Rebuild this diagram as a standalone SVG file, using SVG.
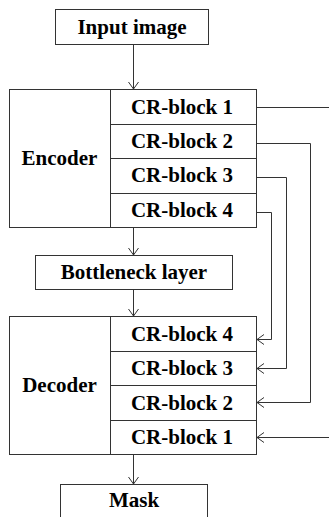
<svg xmlns="http://www.w3.org/2000/svg" width="329" height="517" viewBox="0 0 329 517">
<style>
.box{fill:#fff;stroke:#333;stroke-width:1}
.ln{fill:none;stroke:#333;stroke-width:1}
.t{font-family:"Liberation Serif","Times New Roman",serif;font-weight:bold;font-size:21px;fill:#000;text-anchor:middle}
</style>
<defs>
<marker id="arr" markerUnits="userSpaceOnUse" markerWidth="12" markerHeight="12" viewBox="-8 -6 10 12" refX="0" refY="0" orient="auto">
<path d="M-7,-5 L0,0 L-7,5" fill="none" stroke="#333" stroke-width="1"/>
</marker>
</defs>
<rect width="329" height="517" fill="#fff"/>
<g id="input">
<rect class="box" x="55.5" y="9.5" width="153" height="35"/>
<text class="t" x="132" y="33.5">Input image</text>
</g>
<g id="encoder">
<rect class="box" x="9.5" y="89.5" width="247" height="138"/>
<line class="ln" x1="110.5" y1="89.5" x2="110.5" y2="227.5"/>
<line class="ln" x1="110.5" y1="124.5" x2="256.5" y2="124.5"/>
<line class="ln" x1="110.5" y1="158.5" x2="256.5" y2="158.5"/>
<line class="ln" x1="110.5" y1="193.5" x2="256.5" y2="193.5"/>
<text class="t" x="59.5" y="165">Encoder</text>
<text class="t" x="182" y="113.5">CR-block 1</text>
<text class="t" x="182" y="148">CR-block 2</text>
<text class="t" x="182" y="182">CR-block 3</text>
<text class="t" x="182" y="216.5">CR-block 4</text>
</g>
<g id="bottleneck">
<rect class="box" x="35.5" y="255.5" width="197" height="34"/>
<text class="t" x="134" y="279">Bottleneck layer</text>
</g>
<g id="decoder">
<rect class="box" x="9.5" y="316.5" width="247" height="138"/>
<line class="ln" x1="110.5" y1="316.5" x2="110.5" y2="454.5"/>
<line class="ln" x1="110.5" y1="351.5" x2="256.5" y2="351.5"/>
<line class="ln" x1="110.5" y1="385.5" x2="256.5" y2="385.5"/>
<line class="ln" x1="110.5" y1="420.5" x2="256.5" y2="420.5"/>
<text class="t" x="59.5" y="392">Decoder</text>
<text class="t" x="182" y="340.5">CR-block 4</text>
<text class="t" x="182" y="375">CR-block 3</text>
<text class="t" x="182" y="409.5">CR-block 2</text>
<text class="t" x="182" y="444">CR-block 1</text>
</g>
<g id="mask">
<rect class="box" x="60.5" y="484.5" width="147" height="40"/>
<text class="t" x="134" y="507">Mask</text>
</g>
<g id="connectors">
<line class="ln" x1="133.5" y1="44.5" x2="133.5" y2="89" marker-end="url(#arr)"/>
<line class="ln" x1="133.5" y1="227.5" x2="133.5" y2="255" marker-end="url(#arr)"/>
<line class="ln" x1="133.5" y1="289.5" x2="133.5" y2="316" marker-end="url(#arr)"/>
<line class="ln" x1="133.5" y1="454.5" x2="133.5" y2="484" marker-end="url(#arr)"/>
<line class="ln" x1="256.5" y1="107.5" x2="329" y2="107.5"/>
<polyline class="ln" points="256.5,143.5 310.5,143.5 310.5,402.5 257,402.5" marker-end="url(#arr)"/>
<polyline class="ln" points="256.5,177.5 286.5,177.5 286.5,368.5 257,368.5" marker-end="url(#arr)"/>
<polyline class="ln" points="256.5,212.5 271.5,212.5 271.5,339.5 257,339.5" marker-end="url(#arr)"/>
<line class="ln" x1="329" y1="437.5" x2="257" y2="437.5" marker-end="url(#arr)"/>
</g>
</svg>
